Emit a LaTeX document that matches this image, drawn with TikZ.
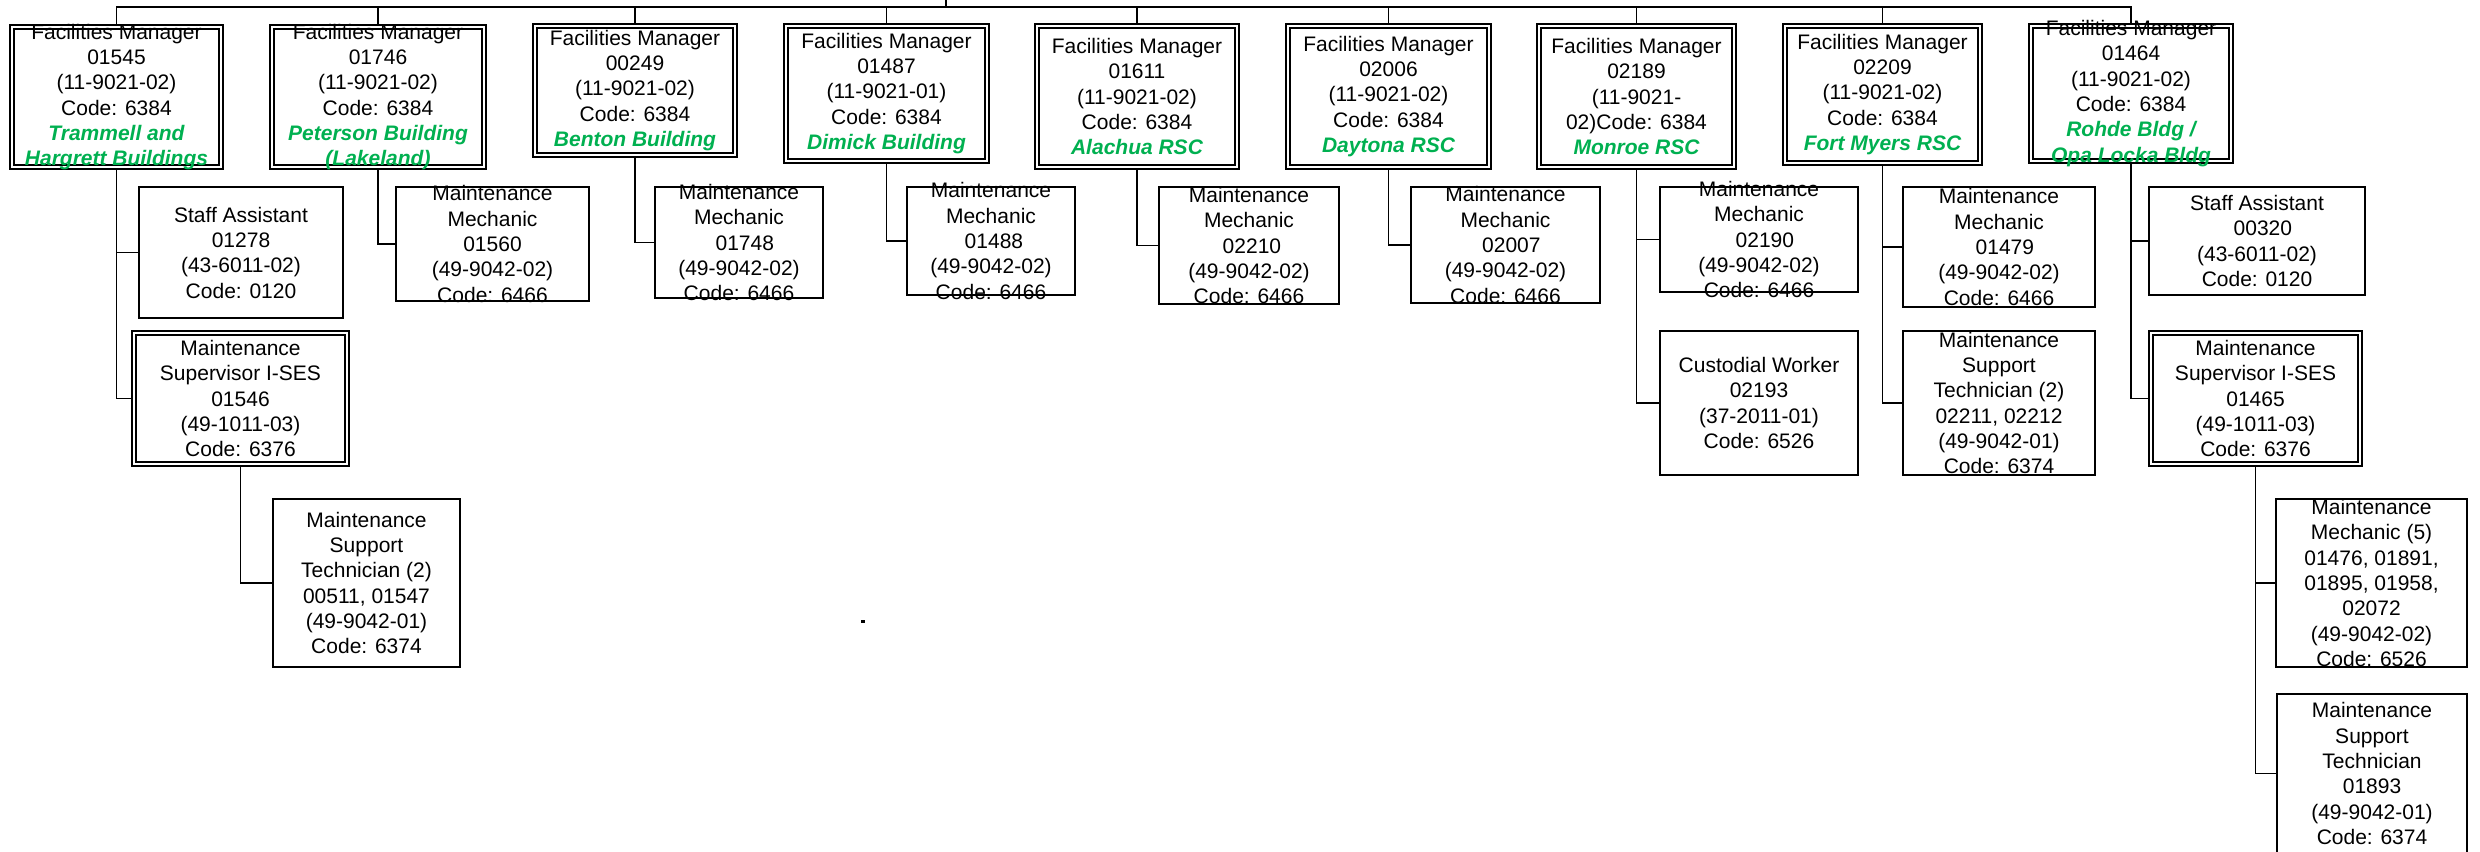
\documentclass[tikz,border=0pt]{standalone}
\usepackage{fontspec}
\setmainfont{Liberation Sans}
\definecolor{bldg}{RGB}{0,176,80}
\newcommand\bldgname[1]{{\color{bldg}\bfseries\itshape #1}}
\begin{document}
\begin{tikzpicture}[x=0.3pt,y=-0.3pt,
  every node/.style={inner sep=0pt},
  conn/.style={draw=black,line width=0.5pt},
  sbox/.style 2 args={draw=black,line width=0.55pt,rectangle,
    minimum width=#1*0.3pt,minimum height=#2*0.3pt},
  dbox/.style 2 args={draw=black,double=white,line width=0.45pt,
    double distance=0.75pt,outer sep=0.83pt,rectangle,
    minimum width=#1*0.3pt,minimum height=#2*0.3pt},
  txt/.style={align=center,font=\fontsize{6.3pt}{7.6pt}\selectfont,text=black}]

\useasboundingbox (0,0) rectangle (2480,851);

% ---------- facility managers ----------
\node[dbox={209}{140}] (B1) at (116.5,97) {};
\node[dbox={212}{140}] (B2) at (378,97) {};
\node[dbox={200}{129}] (B3) at (635,90.5) {};
\node[dbox={201}{135}] (B4) at (886.5,93.5) {};
\node[dbox={200}{141}] (B5) at (1137,96.5) {};
\node[dbox={201}{141}] (B6) at (1388.5,96.5) {};
\node[dbox={195}{141}] (B7) at (1636.5,96.5) {};
\node[dbox={195}{137}] (B8) at (1882.5,94.5) {};
\node[dbox={200}{135}] (B9) at (2131,93.5) {};

% ---------- second level ----------
\node[sbox={204}{131}] (SA1) at (241,252.5) {};
\node[dbox={213}{131}] (S1) at (240.5,398.5) {};
\node[sbox={187}{168}] (T1) at (366.5,583) {};
\node[sbox={193}{114}] (M2) at (492.5,244) {};
\node[sbox={168}{111}] (M3) at (739,242.5) {};
\node[sbox={168}{108}] (M4) at (991,241) {};
\node[sbox={180}{117}] (M5) at (1249,245.5) {};
\node[sbox={189}{116}] (M6) at (1505.5,245) {};
\node[sbox={198}{105}] (M7) at (1759,239.5) {};
\node[sbox={198}{144}] (C7) at (1759,403) {};
\node[sbox={192}{120}] (M8) at (1999,247) {};
\node[sbox={192}{144}] (T8) at (1999,403) {};
\node[sbox={216}{108}] (SA9) at (2257,241) {};
\node[dbox={209}{131}] (S9) at (2255.5,398.5) {};
\node[sbox={191}{168}] (M9) at (2371.5,583) {};
\node[sbox={190}{159}] (T9) at (2372,773.5) {};

% ---------- connectors ----------
\coordinate (up) at (946,-20);
\coordinate (bar) at (946,7);
\draw[conn] (up) -- (bar);
\draw[conn] (B1.north) |- (bar) -| (B9.north);
\foreach \b in {B2,B3,B4,B5,B6,B7,B8}
  \draw[conn] (\b.north) -- (\b.north |- bar);
\draw[conn] (B1.south) |- (SA1.west);
\draw[conn] (B1.south) |- (S1.west);
\draw[conn] (S1.south) |- (T1.west);
\draw[conn] (B2.south) |- (M2.west);
\draw[conn] (B3.south) |- (M3.west);
\draw[conn] (B4.south) |- (M4.west);
\draw[conn] (B5.south) |- (M5.west);
\draw[conn] (B6.south) |- (M6.west);
\draw[conn] (B7.south) |- (M7.west);
\draw[conn] (B7.south) |- (C7.west);
\draw[conn] (B8.south) |- (M8.west);
\draw[conn] (B8.south) |- (T8.west);
\draw[conn] (B9.south) |- (SA9.west);
\draw[conn] (B9.south) |- (S9.west);
\draw[conn] (S9.south) |- (M9.west);
\draw[conn] (S9.south) |- (T9.west);

% ---------- texts ----------
\node[txt] (B1t) at (B1) {Facilities Manager\\01545\\(11-9021-02)\\Code: 6384\\\bldgname{Trammell and}\\\bldgname{Hargrett Buildings}};
\node[txt] (B2t) at (B2) {Facilities Manager\\01746\\(11-9021-02)\\Code: 6384\\\bldgname{Peterson Building}\\\bldgname{(Lakeland)}};
\node[txt] (B3t) at (B3) {Facilities Manager\\00249\\(11-9021-02)\\Code: 6384\\\bldgname{Benton Building}};
\node[txt] (B4t) at (B4) {Facilities Manager\\01487\\(11-9021-01)\\Code: 6384\\\bldgname{Dimick Building}};
\node[txt] (B5t) at (B5) {Facilities Manager\\01611\\(11-9021-02)\\Code: 6384\\\bldgname{Alachua RSC}};
\node[txt] (B6t) at (B6) {Facilities Manager\\02006\\(11-9021-02)\\Code: 6384\\\bldgname{Daytona RSC}};
\node[txt] (B7t) at (B7) {Facilities Manager\\02189\\(11-9021-\\02)Code: 6384\\\bldgname{Monroe RSC}};
\node[txt] (B8t) at (B8) {Facilities Manager\\02209\\(11-9021-02)\\Code: 6384\\\bldgname{Fort Myers RSC}};
\node[txt] (B9t) at (B9) {Facilities Manager\\01464\\(11-9021-02)\\Code: 6384\\\bldgname{Rohde Bldg /}\\\bldgname{Opa Locka Bldg}};

\node[txt] (SA1t) at (SA1) {Staff Assistant\\01278\\(43-6011-02)\\Code: 0120};
\node[txt] (S1t) at (S1) {Maintenance\\Supervisor I-SES\\01546\\(49-1011-03)\\Code: 6376};
\node[txt] (T1t) at (T1) {Maintenance\\Support\\Technician (2)\\00511, 01547\\(49-9042-01)\\Code: 6374};
\node[txt] (M2t) at (M2) {Maintenance\\Mechanic\\01560\\(49-9042-02)\\Code: 6466};
\node[txt] (M3t) at (M3) {Maintenance\\Mechanic\\~~01748\\(49-9042-02)\\Code: 6466};
\node[txt] (M4t) at (M4) {Maintenance\\Mechanic\\~01488\\(49-9042-02)\\Code: 6466};
\node[txt] (M5t) at (M5) {Maintenance\\Mechanic\\~02210\\(49-9042-02)\\Code: 6466};
\node[txt] (M6t) at (M6) {Maintenance\\Mechanic\\~~02007\\(49-9042-02)\\Code: 6466};
\node[txt] (M7t) at (M7) {Maintenance\\Mechanic\\~~02190\\(49-9042-02)\\Code: 6466};
\node[txt] (C7t) at (C7) {Custodial Worker\\02193\\(37-2011-01)\\Code: 6526};
\node[txt] (M8t) at (M8) {Maintenance\\Mechanic\\~~01479\\(49-9042-02)\\Code: 6466};
\node[txt] (T8t) at (T8) {Maintenance\\Support\\Technician (2)\\02211, 02212\\(49-9042-01)\\Code: 6374};
\node[txt] (SA9t) at (SA9) {Staff Assistant\\~~00320\\(43-6011-02)\\Code: 0120};
\node[txt] (S9t) at (S9) {Maintenance\\Supervisor I-SES\\01465\\(49-1011-03)\\Code: 6376};
\node[txt] (M9t) at (M9) {Maintenance\\Mechanic (5)\\01476, 01891,\\01895, 01958,\\02072\\(49-9042-02)\\Code: 6526};
\node[txt] (T9t) at (T9) {Maintenance\\Support\\Technician\\01893\\(49-9042-01)\\Code: 6374};

% stray mark in the blank area
\fill (861,620) rectangle (865,623);
\end{tikzpicture}
\end{document}
